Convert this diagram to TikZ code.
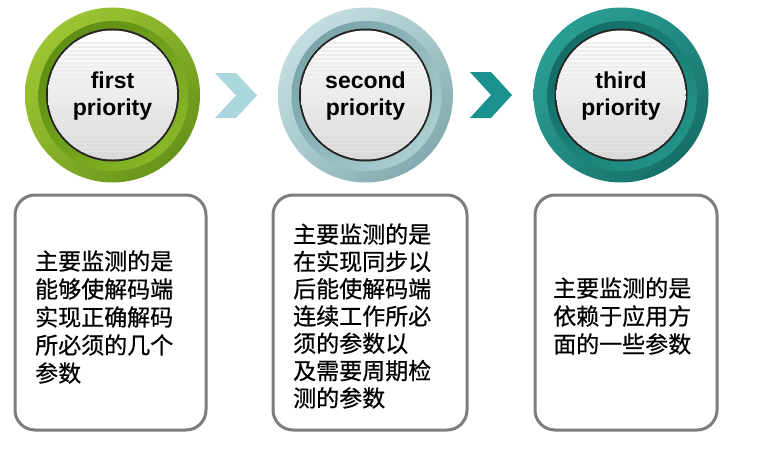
\documentclass[tikz,border=0pt]{standalone}
\usepackage{fontspec}
\setmainfont{Liberation Sans}
\newfontfamily\cjk[FakeBold=0.6]{Noto Sans CJK SC}
\usetikzlibrary{calc,shadings}
\definecolor{gLight}{RGB}{165,205,55}
\definecolor{gDark}{RGB}{90,135,20}
\definecolor{gBand}{RGB}{110,160,25}
\definecolor{bLight}{RGB}{205,230,232}
\definecolor{bDark}{RGB}{115,158,162}
\definecolor{bBand}{RGB}{140,182,186}
\definecolor{tLight}{RGB}{45,165,155}
\definecolor{tDark}{RGB}{18,100,95}
\definecolor{tBand}{RGB}{25,128,118}
\definecolor{chevA}{RGB}{170,215,220}
\definecolor{chevB}{RGB}{25,145,142}
\definecolor{boxGray}{RGB}{125,125,125}
\tikzset{
  boxshape/.style={draw=boxGray, line width=3pt, rounded corners=20pt, fill=white},
  cjktext/.style={font=\cjk\fontsize{23}{28}\selectfont, align=left, anchor=west, inner sep=0pt},
  priotext/.style={font=\bfseries\fontsize{23}{27}\selectfont, align=center, inner sep=0pt},
}
% #1 center, #2 light, #3 dark, #4 band, #5 name, #6 label
\newcommand\prioritydisc[6]{%
  \shade[upper left=#2, upper right=#2!60!#3, lower left=#2!60!#3, lower right=#3]
    (#1) circle (87.5);
  \shade[upper left=#3, upper right=#4, lower left=#4, lower right=#2!70!#4]
    ($(#1)+(1,1)$) circle (75);
  \fill[black!85] (#1) circle (66.5);
  \shade[top color=white, bottom color=black!15] (#1) circle (64.5);
  \begin{scope}
    \clip (#1) circle (64.5);
    \foreach \dy in {-52,-48,...,-8}{
      \draw[black!7, line width=1.2pt] ($(#1)+(-70,\dy)$) -- ($(#1)+(70,\dy)$);
    }
    \foreach \dy in {12,16,...,56}{
      \draw[black!10, line width=1pt] ($(#1)+(-70,\dy)$) -- ($(#1)+(70,\dy)$);
    }
  \end{scope}
  \node[priotext] (#5) at ($(#1)+(0,1.5)$) {#6};
}
\begin{document}
\begin{tikzpicture}[x=1pt,y=-1pt]
\useasboundingbox (0,0) rectangle (759,452);
\fill[white] (0,0) rectangle (759,452);

\coordinate (c1) at (112.5,95);
\coordinate (c2) at (365.5,95);
\coordinate (c3) at (621,95);

\prioritydisc{c1}{gLight}{gDark}{gBand}{n1}{first\\priority}
\prioritydisc{c2}{bLight}{bDark}{bBand}{n2}{second\\priority}
\prioritydisc{c3}{tLight}{tDark}{tBand}{n3}{third\\priority}

% chevrons
\fill[chevA] (215,73) -- (236,73) -- (257,95.5) -- (236,118) -- (215,118) -- (236,95.5) -- cycle;
\fill[chevB] (470,72) -- (491,72) -- (512,95) -- (491,118) -- (470,118) -- (491,95) -- cycle;

% boxes
\node[boxshape, minimum width=191pt, minimum height=235pt] (b1) at (110.5,312.5) {};
\node[boxshape, minimum width=194pt, minimum height=235pt] (b2) at (370,312.5) {};
\node[boxshape, minimum width=182pt, minimum height=235pt] (b3) at (626,312.5) {};

\node[cjktext] (t1) at (35,317) {主要监测的是\\能够使解码端\\实现正确解码\\所必须的几个\\参数};
\node[cjktext, font=\cjk\fontsize{23}{27.3}\selectfont] (t2) at (293,316) {主要监测的是\\在实现同步以\\后能使解码端\\连续工作所必\\须的参数以\\及需要周期检\\测的参数};
\node[cjktext] (t3) at (553,316) {主要监测的是\\依赖于应用方\\面的一些参数};
\end{tikzpicture}
\end{document}
